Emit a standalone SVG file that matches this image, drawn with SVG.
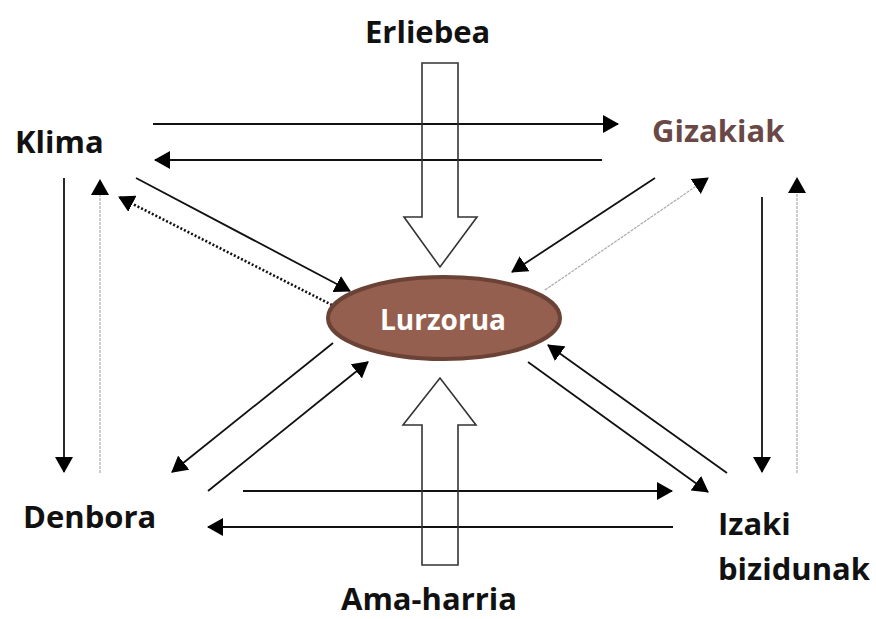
<svg xmlns="http://www.w3.org/2000/svg" width="876" height="619" viewBox="0 0 876 619">
<defs>
<marker id="ah" markerUnits="userSpaceOnUse" markerWidth="16" markerHeight="18" viewBox="0 0 16 18" refX="15" refY="9" orient="auto">
<path d="M0,0 L16,9 L0,18 Z" fill="#000"/>
</marker>
</defs>
<style>
.lbl{font-family:"Open Sans","Noto Sans","Liberation Sans",sans-serif;font-weight:700;font-size:31px;fill:#111}
.solid{stroke:#111;stroke-width:1.8;fill:none}
.light{stroke:#aaa;stroke-width:1.2;stroke-dasharray:3 1;fill:none}
.dots{stroke:#111;stroke-width:2.6;stroke-dasharray:2 2;fill:none}
.block{stroke:#333;stroke-width:1.6;fill:none}
</style>
<g id="connectors">
<line class="solid" x1="153" y1="124" x2="618" y2="124" marker-end="url(#ah)"/>
<line class="solid" x1="602" y1="160" x2="155" y2="160" marker-end="url(#ah)"/>
<line class="solid" x1="64" y1="178" x2="64" y2="472" marker-end="url(#ah)"/>
<line class="light" x1="100" y1="473" x2="100" y2="180" marker-end="url(#ah)"/>
<line class="solid" x1="136" y1="178" x2="350" y2="291" marker-end="url(#ah)"/>
<line class="dots" x1="332" y1="305" x2="119" y2="197" marker-end="url(#ah)"/>
<line class="solid" x1="655" y1="178" x2="512" y2="272" marker-end="url(#ah)"/>
<line class="light" x1="545" y1="290" x2="708" y2="178" marker-end="url(#ah)"/>
<line class="solid" x1="762" y1="197" x2="762" y2="472" marker-end="url(#ah)"/>
<line class="light" x1="797" y1="473" x2="797" y2="178" marker-end="url(#ah)"/>
<line class="solid" x1="333" y1="343" x2="172" y2="472" marker-end="url(#ah)"/>
<line class="solid" x1="208" y1="491" x2="368" y2="362" marker-end="url(#ah)"/>
<line class="solid" x1="528" y1="362" x2="708" y2="492" marker-end="url(#ah)"/>
<line class="solid" x1="727" y1="473" x2="548" y2="345" marker-end="url(#ah)"/>
<line class="solid" x1="243" y1="491" x2="672" y2="491" marker-end="url(#ah)"/>
<line class="solid" x1="673" y1="527" x2="208" y2="527" marker-end="url(#ah)"/>
</g>
<g id="erliebea">
<polygon class="block" points="422,63 458,63 458,217 477,217 440,267 404,217 422,217"/>
<text class="lbl" x="365" y="43">Erliebea</text>
</g>
<g id="ama-harria">
<polygon class="block" points="422,565 458,565 458,425 476,425 440,378 403,425 422,425"/>
<text class="lbl" x="341" y="610">Ama-harria</text>
</g>
<g id="klima">
<text class="lbl" x="15" y="153">Klima</text>
</g>
<g id="gizakiak">
<text class="lbl" x="652" y="142" style="fill:#6a4846">Gizakiak</text>
</g>
<g id="denbora">
<text class="lbl" x="23" y="528">Denbora</text>
</g>
<g id="izaki-bizidunak">
<text class="lbl" x="718" y="535">Izaki</text>
<text class="lbl" x="718" y="580">bizidunak</text>
</g>
<g id="lurzorua">
<ellipse cx="444" cy="318" rx="116" ry="41" fill="#955f4f" stroke="#6b4236" stroke-width="4"/>
<text x="443" y="330" text-anchor="middle" style="font-family:'Open Sans','Noto Sans','Liberation Sans',sans-serif;font-weight:700;font-size:28px;fill:#fff">Lurzorua</text>
</g>
</svg>
